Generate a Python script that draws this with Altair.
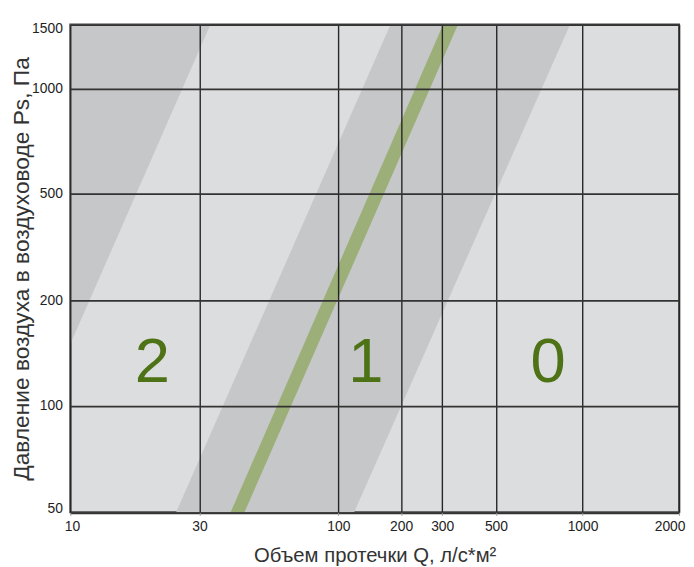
import altair as alt
import pandas as pd

# Axis ticks (values) and their positions on the original hand-drawn scale
x_ticks = [10, 30, 100, 200, 300, 500, 1000, 2000]
x_tick_pos = [0, 130.7, 271.3, 334.7, 376.3, 430.7, 518.3, 616]
y_ticks = [50, 100, 200, 500, 1000, 1500]
y_tick_pos = [493.5, 385.8, 279.2, 171.2, 64.5, 0]

# Shaded class bands (pressure, left flow, right flow)
bandA_p = [150, 1500]
bandA_q1 = [10, 10]
bandA_q2 = [10, 33]

bandB_p = [50, 1500]
bandB_q1 = [24.6, 178]
bandB_q2 = [119, 905]

# Green reference line (drawn as thin band)
green_p = [50, 1500]
green_q1 = [39.3, 302.8]
green_q2 = [44.3, 348.6]

# Class labels
class_labels = ["2", "1", "0"]
class_q = [20.1, 135.4, 759]
class_p = [117, 117, 117]

FONT = "Liberation Sans"

xscale = alt.Scale(type="log", domain=x_ticks, range=x_tick_pos, nice=False)
yscale = alt.Scale(type="log", domain=y_ticks, range=y_tick_pos, nice=False)

dfA = pd.DataFrame({"P": bandA_p, "Q1": bandA_q1, "Q2": bandA_q2})
dfB = pd.DataFrame({"P": bandB_p, "Q1": bandB_q1, "Q2": bandB_q2})
dfG = pd.DataFrame({"P": green_p, "Q1": green_q1, "Q2": green_q2})
dfL = pd.DataFrame({"label": class_labels, "Q": class_q, "P": class_p})

x_axis = alt.Axis(
    values=x_ticks, format="d", title="Объем протечки Q, л/с*м²",
    grid=True, gridColor="#262626", gridWidth=1.4, domain=False,
    ticks=True, tickSize=3, tickColor="#999999",
    labelFont=FONT, labelFontSize=14, labelColor="#222222", labelPadding=4,
    labelFlush=True, labelFlushOffset=6,
    titleFont=FONT, titleFontSize=20.5, titleFontWeight="normal", titleColor="#333333",
    titlePadding=13, zindex=1,
)
y_axis = alt.Axis(
    values=y_ticks, format="d", title="Давление воздуха в воздуховоде Ps, Па",
    grid=True, gridColor="#333333", gridWidth=1.8, domain=False,
    ticks=False, labelFont=FONT, labelFontSize=14, labelColor="#222222",
    labelPadding=8, labelFlush=True, labelFlushOffset=3,
    titleFont=FONT, titleFontSize=23, titleFontWeight="normal", titleColor="#333333",
    titlePadding=-2, zindex=1,
)

bandA = alt.Chart(dfA).mark_area(orient="horizontal", color="#c6c7c9", clip=True).encode(
    y=alt.Y("P:Q", scale=yscale, axis=y_axis),
    x=alt.X("Q1:Q", scale=xscale, axis=x_axis),
    x2="Q2:Q",
)
bandB = alt.Chart(dfB).mark_area(orient="horizontal", color="#c6c7c9", clip=True).encode(
    y=alt.Y("P:Q", scale=yscale),
    x=alt.X("Q1:Q", scale=xscale),
    x2="Q2:Q",
)
green = alt.Chart(dfG).mark_area(orient="horizontal", color="#9caf78", clip=True).encode(
    y=alt.Y("P:Q", scale=yscale),
    x=alt.X("Q1:Q", scale=xscale),
    x2="Q2:Q",
)
labels = alt.Chart(dfL).mark_text(
    font=FONT, fontSize=64, color="#4e7216", baseline="alphabetic", align="center"
).encode(
    x=alt.X("Q:Q", scale=xscale),
    y=alt.Y("P:Q", scale=yscale),
    text="label:N",
)

chart = alt.layer(bandA, bandB, green, labels).properties(
    width=616, height=493.5,
    autosize=alt.AutoSizeParams(type="none"),
    padding={"left": 63, "top": 13.5, "right": 7, "bottom": 52},
    background="#ffffff",
).configure_view(fill="#dcdddf", stroke="#444444", strokeWidth=2)

chart.save("out.html", embed_options={"renderer": "svg", "actions": False})
